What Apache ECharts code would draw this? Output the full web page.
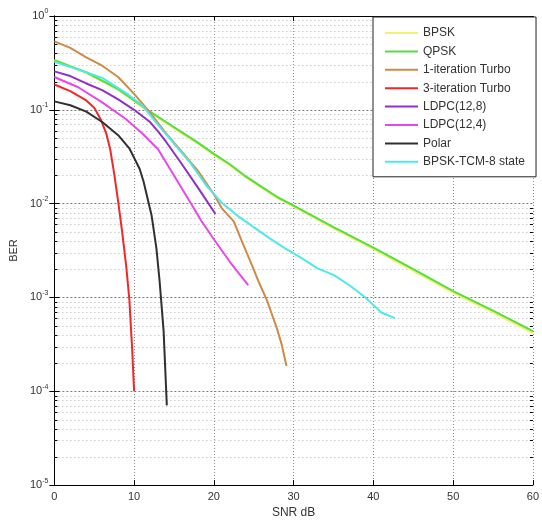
<!DOCTYPE html>
<html><head><meta charset="utf-8">
<script src="https://cdn.jsdelivr.net/npm/echarts@6/dist/echarts.min.js"></script>
<style>html,body{margin:0;padding:0;background:#fff}#c{width:542px;height:524px}</style>
</head><body><div id="c"></div>
<script>
// ---- data (SNR dB, BER) ----
var bpskSnr = [0,4,8,10,12,14,16,18,20,22,24,26,28,30,35,40,45,50,55,60];
var bpskBer = [0.339,0.250,0.165,0.125,0.094,0.073,0.0565,0.0440,0.0333,0.0258,0.0192,0.0149,0.0115,0.0094,0.0055,0.00330,0.00193,0.00113,0.000700,0.000420];
var qpskSnr = [0,4,8,10,12,14,16,18,20,22,24,26,28,30,35,40,45,50,55,60];
var qpskBer = [0.339,0.251,0.166,0.126,0.0955,0.0741,0.0575,0.0447,0.0339,0.0263,0.0195,0.0151,0.0117,0.00955,0.00562,0.00339,0.00200,0.00117,0.000724,0.000437];
var turbo1Snr = [0,2,4,6,8,10,12,14,16,18,20,21,22.5,23.5,24.6,25.6,26.7,27.9,28.5,29.1];
var turbo1Ber = [0.537,0.457,0.363,0.295,0.224,0.148,0.0933,0.0562,0.0355,0.0224,0.0126,0.00891,0.00646,0.00398,0.00240,0.00148,0.000912,0.000468,0.000316,0.000186];
var turbo3Snr = [0,2,4,5,5.8,6.5,7,7.5,8,8.5,9,9.4,9.75,10];
var turbo3Ber = [0.186,0.158,0.126,0.105,0.0794,0.0562,0.0380,0.0209,0.0105,0.00501,0.00219,0.000955,0.000288,0.0001];
var ldpc128Snr = [0,2,4,6,8,10,12,13,14,16,18,20.2];
var ldpc128Ber = [0.257,0.229,0.191,0.162,0.129,0.100,0.0741,0.0589,0.0457,0.0263,0.0148,0.00776];
var ldpc124Snr = [0,3,6,9,11,13,15,17,18.4,20,22,24.3];
var ldpc124Ber = [0.224,0.174,0.120,0.0794,0.0562,0.0380,0.0200,0.0105,0.00661,0.00417,0.00240,0.00135];
var polarSnr = [0,2,4,6,8,9.4,10.7,11.2,12.2,12.8,13.2,13.7,14.1];
var polarBer = [0.123,0.112,0.0955,0.0741,0.0537,0.0389,0.0234,0.0170,0.00741,0.00331,0.00148,0.000437,0.0000708];
var tcmSnr = [0,3,6,9,11,13,15,17,19,21,23,25,27,29,31,33,35,37,39,41,42.7];
var tcmBer = [0.324,0.269,0.219,0.151,0.112,0.0692,0.0437,0.0275,0.0158,0.0102,0.00741,0.00562,0.00427,0.00331,0.00263,0.00204,0.00174,0.00135,0.00100,0.000692,0.000603];

var seriesNames = ['BPSK','QPSK','1-iteration Turbo','3-iteration Turbo','LDPC(12,8)','LDPC(12,4)','Polar','BPSK-TCM-8 state'];
var seriesColors = ['#f4f070','#52e040','#d08a48','#f02828','#9030c8','#e848e8','#303030','#50e8e8'];
var xTicks = [0,10,20,30,40,50,60];
var yMinorTicks = [];
[1e-5,1e-4,1e-3,1e-2,1e-1].forEach(function(d){ for (var k=2;k<=9;k++) yMinorTicks.push(+(d*k).toPrecision(3)); });

function zip(a,b){ return a.map(function(v,i){ return [v,b[i]]; }); }
var allData = [zip(bpskSnr,bpskBer),zip(qpskSnr,qpskBer),zip(turbo1Snr,turbo1Ber),zip(turbo3Snr,turbo3Ber),
  zip(ldpc128Snr,ldpc128Ber),zip(ldpc124Snr,ldpc124Ber),zip(polarSnr,polarBer),zip(tcmSnr,tcmBer)];

var FONT = 'Liberation Sans, Arial, sans-serif';
var xMin = xTicks[0], xMax = xTicks[xTicks.length-1];

var series = allData.map(function(d,i){
  return {name: seriesNames[i], type:'line', data:d, symbol:'none', smooth:false, z:3,
    lineStyle:{color:seriesColors[i], width: i===0 ? 2.6 : 2}, itemStyle:{color:seriesColors[i]}, animation:false};
});
series.unshift({
  type:'custom', name:'minor', z:1, silent:true, animation:false, xAxisIndex:0, yAxisIndex:0,
  data: yMinorTicks.map(function(v){ return [xMin, v]; }),
  encode:{x:0,y:1},
  renderItem:function(params, api){
    var v = api.value(1);
    var p0 = api.coord([xMin, v]), p1 = api.coord([xMax, v]);
    var y = Math.round(p0[1]) + 0.5;
    return {type:'group', children:[
      {type:'line', shape:{x1:p0[0], y1:y, x2:p1[0], y2:y}, style:{stroke:'#b4b4b4', lineWidth:1, lineDash:[1,3]}},
      {type:'line', shape:{x1:p0[0], y1:y, x2:p0[0]+3, y2:y}, style:{stroke:'#000', lineWidth:1}},
      {type:'line', shape:{x1:p1[0]-3, y1:y, x2:p1[0], y2:y}, style:{stroke:'#000', lineWidth:1}}
    ]};
  }
});

function logLabel(v){
  var e = Math.round(Math.log(v)/Math.LN10);
  return '{b|10}{s|' + e + '}';
}

var chart = echarts.init(document.getElementById('c'), null, {renderer:'canvas'});
chart.setOption({
  backgroundColor:'#fff',
  animation:false,
  textStyle:{fontFamily:FONT},
  grid:{left:51, right:5, top:16, bottom:36, containLabel:false},
  legend:{
    data: seriesNames, orient:'vertical', left:373, top:17,
    padding:[10,11,9,12], itemGap:6.4, itemWidth:33, itemHeight:2, icon:'rect',
    backgroundColor:'#fff', borderColor:'#222', borderWidth:1, borderRadius:0,
    textStyle:{fontSize:12, color:'#333', fontFamily:FONT, lineHeight:12},
    selectedMode:false
  },
  xAxis:[{
    type:'value', min:xMin, max:xMax, interval:10, position:'bottom',
    name:'SNR dB', nameLocation:'middle', nameGap:20,
    nameTextStyle:{fontSize:12, color:'#333', fontFamily:FONT},
    axisLine:{show:true, lineStyle:{color:'#000', width:1}},
    axisTick:{show:true, inside:true, length:5, lineStyle:{color:'#000'}},
    axisLabel:{fontSize:11, color:'#333', margin:6, fontFamily:FONT},
    splitLine:{show:true, lineStyle:{color:'#8c8c8c', type:[1,2], width:1}}
  },{
    type:'value', min:xMin, max:xMax, interval:10, position:'top',
    axisLine:{show:true, lineStyle:{color:'#000', width:1}},
    axisTick:{show:true, inside:true, length:5, lineStyle:{color:'#000'}},
    axisLabel:{show:false}, splitLine:{show:false}
  }],
  yAxis:[{
    type:'log', logBase:10, min:1e-5, max:1, position:'left',
    name:'BER', nameLocation:'middle', nameGap:32, nameRotate:90,
    nameTextStyle:{fontSize:11, color:'#333', fontFamily:FONT},
    axisLine:{show:true, lineStyle:{color:'#000', width:1}},
    axisTick:{show:true, inside:true, length:5, lineStyle:{color:'#000'}},
    axisLabel:{margin:6, formatter:logLabel, color:'#333',
      rich:{b:{fontSize:11, color:'#333', fontFamily:FONT, lineHeight:16},
            s:{fontSize:7, color:'#333', fontFamily:FONT, lineHeight:16, verticalAlign:'top', padding:[0,0,6,0]}}},
    splitLine:{show:true, lineStyle:{color:'#7c7c7c', type:[2,2], width:1}}
  },{
    type:'log', logBase:10, min:1e-5, max:1, position:'right',
    axisLine:{show:true, lineStyle:{color:'#000', width:1}},
    axisTick:{show:true, inside:true, length:5, lineStyle:{color:'#000'}},
    axisLabel:{show:false}, splitLine:{show:false}
  }],
  series: series
});
</script>
</body></html>
